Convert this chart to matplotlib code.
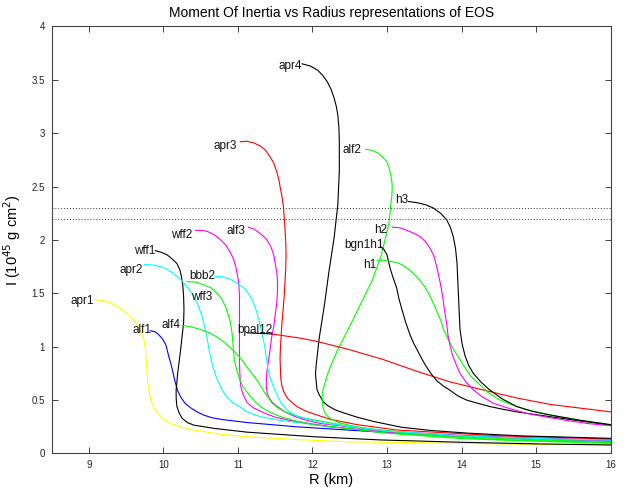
import matplotlib
matplotlib.use("Agg")
import matplotlib.pyplot as plt

plt.rcParams['font.family'] = ['Liberation Sans', 'DejaVu Sans']

# Moment of inertia I (10^45 g cm^2) against radius R (km) for each EOS
apr1_R = [9.09, 9.2, 9.29, 9.4, 9.51, 9.6, 9.67, 9.71, 9.74, 9.76, 9.77, 9.78, 9.79, 9.81, 9.83, 9.87, 9.92, 10.0, 10.10, 10.25, 10.41, 10.77, 11.12, 11.8, 12.46, 13.5, 14.5, 15.41, 16]
apr1_I = [1.44, 1.43, 1.41, 1.37, 1.31, 1.25, 1.19, 1.13, 1.06, 0.96, 0.85, 0.75, 0.66, 0.57, 0.50, 0.43, 0.38, 0.32, 0.28, 0.245, 0.22, 0.18, 0.157, 0.13, 0.11, 0.10, 0.09, 0.083, 0.078]

alf1_R = [9.82, 9.89, 9.94, 9.99, 10.03, 10.05, 10.07, 10.10, 10.12, 10.14, 10.16, 10.19, 10.23, 10.29, 10.36, 10.45, 10.54, 10.65, 10.77, 11.12, 11.79, 12.69, 13.5, 14.5, 15.3, 16]
alf1_I = [1.15, 1.14, 1.11, 1.07, 1.02, 0.97, 0.91, 0.84, 0.78, 0.72, 0.66, 0.59, 0.53, 0.47, 0.43, 0.39, 0.36, 0.335, 0.32, 0.29, 0.25, 0.21, 0.175, 0.15, 0.13, 0.115]

wff1_R = [9.89, 9.97, 10.05, 10.12, 10.18, 10.22, 10.24, 10.26, 10.27, 10.275, 10.27, 10.25, 10.23, 10.21, 10.19, 10.18, 10.17, 10.17, 10.18, 10.21, 10.25, 10.32, 10.41, 10.55, 10.68, 11.12, 12.02, 12.91, 14, 15, 16]
wff1_I = [1.90, 1.885, 1.86, 1.82, 1.78, 1.72, 1.66, 1.57, 1.47, 1.35, 1.22, 1.10, 0.97, 0.86, 0.75, 0.67, 0.60, 0.52, 0.44, 0.38, 0.33, 0.29, 0.265, 0.25, 0.235, 0.20, 0.157, 0.127, 0.105, 0.09, 0.08]

apr2_R = [9.74, 9.88, 10.01, 10.13, 10.23, 10.33, 10.41, 10.47, 10.52, 10.56, 10.59, 10.62, 10.66, 10.70, 10.75, 10.80, 10.85, 10.92, 11.0, 11.12, 11.3, 11.57, 12.24, 13, 14, 15, 16]
apr2_I = [1.77, 1.765, 1.74, 1.69, 1.63, 1.55, 1.47, 1.38, 1.28, 1.17, 1.06, 0.94, 0.82, 0.73, 0.65, 0.58, 0.53, 0.48, 0.45, 0.39, 0.345, 0.31, 0.25, 0.20, 0.16, 0.135, 0.118]

wff2_R = [10.43, 10.52, 10.59, 10.68, 10.77, 10.84, 10.90, 10.94, 10.97, 10.99, 11.01, 11.02, 11.02, 11.02, 11.02, 11.025, 11.03, 11.04, 11.06, 11.09, 11.12, 11.2, 11.35, 11.5, 11.70, 12.24, 13, 14, 15, 16]
wff2_I = [2.09, 2.09, 2.08, 2.05, 2.00, 1.95, 1.88, 1.82, 1.75, 1.68, 1.60, 1.48, 1.35, 1.05, 0.85, 0.75, 0.68, 0.62, 0.57, 0.52, 0.48, 0.43, 0.38, 0.34, 0.31, 0.25, 0.20, 0.16, 0.14, 0.12]

alf3_R = [11.14, 11.22, 11.30, 11.38, 11.44, 11.48, 11.50, 11.52, 11.53, 11.53, 11.52, 11.50, 11.48, 11.45, 11.43, 11.41, 11.39, 11.38, 11.38, 11.39, 11.41, 11.46, 11.53, 11.63, 11.75, 11.9, 12.11, 13, 14, 15, 16]
alf3_I = [2.12, 2.10, 2.06, 2.01, 1.94, 1.86, 1.78, 1.70, 1.63, 1.52, 1.41, 1.30, 1.19, 1.08, 0.97, 0.87, 0.78, 0.70, 0.63, 0.57, 0.53, 0.48, 0.44, 0.39, 0.35, 0.315, 0.28, 0.21, 0.17, 0.145, 0.13]

apr3_R = [11.03, 11.12, 11.21, 11.30, 11.37, 11.43, 11.48, 11.52, 11.55, 11.57, 11.59, 11.61, 11.62, 11.63, 11.64, 11.645, 11.64, 11.63, 11.62, 11.605, 11.59, 11.58, 11.57, 11.565, 11.57, 11.575, 11.59, 11.62, 11.66, 11.72, 11.79, 11.9, 12.02, 12.24, 12.6, 13.13, 14.47, 16]
apr3_I = [2.92, 2.925, 2.91, 2.88, 2.84, 2.78, 2.72, 2.64, 2.56, 2.48, 2.41, 2.31, 2.22, 2.11, 2.00, 1.86, 1.72, 1.60, 1.47, 1.34, 1.22, 1.11, 1.00, 0.89, 0.78, 0.70, 0.63, 0.57, 0.52, 0.48, 0.44, 0.40, 0.37, 0.32, 0.27, 0.22, 0.167, 0.136]

apr4_R = [11.86, 11.97, 12.07, 12.14, 12.20, 12.25, 12.29, 12.32, 12.34, 12.355, 12.36, 12.36, 12.34, 12.29, 12.22, 12.16, 12.09, 12.05, 12.04, 12.05, 12.06, 12.09, 12.14, 12.20, 12.3, 12.42, 12.6, 12.82, 13.2, 13.6, 14.1, 14.8, 16]
apr4_I = [3.65, 3.63, 3.59, 3.54, 3.48, 3.41, 3.33, 3.25, 3.17, 3.05, 2.92, 2.64, 2.33, 2.02, 1.70, 1.39, 1.08, 0.83, 0.75, 0.67, 0.60, 0.55, 0.49, 0.45, 0.41, 0.38, 0.34, 0.30, 0.245, 0.215, 0.19, 0.165, 0.142]

alf2_R = [12.71, 12.80, 12.89, 12.95, 13.00, 13.03, 13.05, 13.065, 13.07, 13.065, 13.05, 13.03, 12.98, 12.92, 12.80, 12.66, 12.52, 12.33, 12.21, 12.15, 12.13, 12.13, 12.14, 12.16, 12.2, 12.26, 12.35, 12.46, 12.6, 12.78, 13.49, 14.5, 16]
alf2_I = [2.85, 2.84, 2.81, 2.77, 2.73, 2.67, 2.61, 2.55, 2.49, 2.41, 2.33, 2.17, 2.02, 1.85, 1.62, 1.42, 1.22, 0.96, 0.76, 0.62, 0.56, 0.50, 0.44, 0.39, 0.35, 0.32, 0.29, 0.27, 0.25, 0.23, 0.17, 0.13, 0.10]

alf4_R = [10.25, 10.38, 10.50, 10.62, 10.72, 10.82, 10.90, 11.0, 11.07, 11.12, 11.2, 11.28, 11.34, 11.40, 11.46, 11.55, 11.65, 11.75, 11.9, 12.06, 12.51, 13.5, 14.5, 16]
alf4_I = [1.20, 1.185, 1.16, 1.13, 1.09, 1.04, 0.99, 0.92, 0.86, 0.81, 0.74, 0.66, 0.59, 0.53, 0.47, 0.42, 0.385, 0.36, 0.33, 0.31, 0.25, 0.18, 0.14, 0.105]

wff3_R = [10.32, 10.44, 10.54, 10.64, 10.72, 10.78, 10.83, 10.87, 10.90, 10.92, 10.93, 10.94, 10.95, 10.98, 11.02, 11.07, 11.14, 11.22, 11.30, 11.42, 11.57, 11.8, 12.02, 13, 14, 15, 16]
wff3_I = [1.61, 1.605, 1.58, 1.55, 1.50, 1.45, 1.38, 1.30, 1.22, 1.13, 1.05, 0.96, 0.88, 0.79, 0.70, 0.62, 0.56, 0.49, 0.44, 0.39, 0.345, 0.30, 0.27, 0.19, 0.14, 0.115, 0.095]

bbb2_R = [10.69, 10.80, 10.90, 11.0, 11.08, 11.15, 11.21, 11.25, 11.28, 11.32, 11.36, 11.38, 11.40, 11.43, 11.48, 11.53, 11.58, 11.67, 11.79, 12.0, 12.20, 13, 14, 15, 16]
bbb2_I = [1.66, 1.655, 1.63, 1.59, 1.55, 1.49, 1.41, 1.33, 1.25, 1.13, 1.00, 0.90, 0.80, 0.71, 0.62, 0.54, 0.47, 0.40, 0.35, 0.31, 0.28, 0.21, 0.165, 0.14, 0.125]

bpal12_R = [11.45, 11.84, 12.06, 12.51, 12.95, 13.40, 13.85, 14.29, 14.74, 15.19, 16]
bpal12_I = [1.12, 1.08, 1.05, 0.97, 0.88, 0.77, 0.67, 0.595, 0.52, 0.46, 0.39]
bpal12_top_R = [11.13, 11.45]
bpal12_top_I = [1.13, 1.12]

bgn1h1_R = [12.91, 12.96, 13.00, 13.02, 13.04, 13.08, 13.13, 13.16, 13.20, 13.25, 13.31, 13.36, 13.42, 13.48, 13.54, 13.60, 13.67, 13.76, 13.85, 13.95, 14.07, 14.22, 14.38, 14.55, 14.74, 15.19, 15.64, 16]
bgn1h1_I = [1.94, 1.91, 1.86, 1.80, 1.74, 1.65, 1.55, 1.45, 1.35, 1.23, 1.11, 1.03, 0.95, 0.87, 0.80, 0.74, 0.68, 0.63, 0.59, 0.54, 0.50, 0.47, 0.44, 0.415, 0.39, 0.345, 0.30, 0.265]

h1_R = [12.87, 12.96, 13.04, 13.12, 13.20, 13.28, 13.35, 13.43, 13.50, 13.55, 13.60, 13.64, 13.67, 13.72, 13.76, 13.82, 13.89, 13.97, 14.05, 14.13, 14.22, 14.36, 14.52, 14.7, 14.88, 15.1, 15.32, 15.65, 16]
h1_I = [1.81, 1.81, 1.80, 1.79, 1.77, 1.73, 1.69, 1.63, 1.57, 1.51, 1.44, 1.38, 1.33, 1.25, 1.16, 1.07, 0.98, 0.89, 0.80, 0.72, 0.66, 0.57, 0.50, 0.45, 0.41, 0.375, 0.345, 0.305, 0.27]

h2_R = [13.07, 13.17, 13.27, 13.37, 13.45, 13.52, 13.58, 13.63, 13.66, 13.69, 13.72, 13.75, 13.77, 13.80, 13.82, 13.85, 13.88, 13.93, 13.98, 14.06, 14.16, 14.28, 14.43, 14.65, 14.88, 15.15, 15.41, 15.7, 16]
h2_I = [2.12, 2.115, 2.09, 2.06, 2.03, 1.98, 1.92, 1.85, 1.77, 1.68, 1.58, 1.46, 1.35, 1.22, 1.10, 1.00, 0.92, 0.83, 0.75, 0.67, 0.595, 0.53, 0.47, 0.42, 0.375, 0.34, 0.31, 0.28, 0.26]

h3_R = [13.29, 13.40, 13.52, 13.62, 13.72, 13.80, 13.85, 13.89, 13.92, 13.94, 13.95, 13.96, 13.97, 13.98, 14.01, 14.05, 14.10, 14.16, 14.26, 14.38, 14.55, 14.74, 14.95, 15.19, 15.6, 16]
h3_I = [2.36, 2.35, 2.33, 2.30, 2.25, 2.19, 2.12, 2.03, 1.92, 1.78, 1.62, 1.47, 1.31, 1.16, 1.02, 0.91, 0.82, 0.75, 0.67, 0.595, 0.51, 0.44, 0.395, 0.36, 0.31, 0.27]

# name, R, I, colour, label anchor (right end of text)
curves = [
    ("apr1", apr1_R, apr1_I, "#ffff00", (9.07, 1.43)),
    ("alf1", alf1_R, alf1_I, "#0000ff", (9.84, 1.16)),
    ("wff1", wff1_R, wff1_I, "#000000", (9.89, 1.90)),
    ("apr2", apr2_R, apr2_I, "#00ffff", (9.72, 1.72)),
    ("wff2", wff2_R, wff2_I, "#ff00ff", (10.39, 2.05)),
    ("alf3", alf3_R, alf3_I, "#ff00ff", (11.10, 2.08)),
    ("apr3", apr3_R, apr3_I, "#ff0000", (10.99, 2.88)),
    ("apr4", apr4_R, apr4_I, "#000000", (11.86, 3.63)),
    ("alf2", alf2_R, alf2_I, "#00ff00", (12.66, 2.84)),
    ("alf4", alf4_R, alf4_I, "#00ff00", (10.23, 1.20)),
    ("wff3", wff3_R, wff3_I, "#00ff00", (10.65, 1.47)),
    ("bbb2", bbb2_R, bbb2_I, "#00ffff", (10.70, 1.66)),
    ("bpal12", bpal12_R, bpal12_I, "#ff0000", (11.46, 1.16)),
    ("bgn1h1", bgn1h1_R, bgn1h1_I, "#000000", (12.96, 1.95)),
    ("h1", h1_R, h1_I, "#00ff00", (12.86, 1.77)),
    ("h2", h2_R, h2_I, "#ff00ff", (13.01, 2.09)),
    ("h3", h3_R, h3_I, "#000000", (13.29, 2.37)),
]

limit_lines = [2.3, 2.2]
x_ticks = [9, 10, 11, 12, 13, 14, 15, 16]
y_ticks = [0, 0.5, 1, 1.5, 2, 2.5, 3, 3.5, 4]
y_tick_labels = ["0", "0.5", "1", "1.5", "2", "2.5", "3", "3.5", "4"]

fig = plt.figure(figsize=(6.27, 4.90), dpi=100)
ax = fig.add_axes([0.0825, 0.0745, 0.8912, 0.8715])

for name, R, I, col, (lx, ly) in curves:
    ax.plot(R, I, color=col, lw=0.8, solid_joinstyle='round')
    ax.text(lx, ly, name, ha='right', va='center', fontsize=8.5, color='#111111')
ax.plot(bpal12_top_R, bpal12_top_I, color='#000000', lw=0.8)

for y in limit_lines:
    ax.axhline(y, color='#333333', lw=0.7, ls=(0, (1, 2)))

ax.set_xlim(8.5, 16)
ax.set_ylim(0, 4)
ax.set_xticks(x_ticks)
ax.set_yticks(y_ticks)
ax.set_yticklabels(y_tick_labels)
ax.tick_params(direction='in', length=4, width=0.6, top=True, right=True,
               labelsize=7, colors='#222222', pad=5)
for sp in ax.spines.values():
    sp.set_color('#444444')
    sp.set_linewidth(0.8)

ax.set_xlabel("R (km)", fontsize=10.5, labelpad=2)
ax.set_ylabel(r"I (10$^{45}$ g cm$^2$)", fontsize=10.5, labelpad=6)
ax.set_title("Moment Of Inertia vs Radius representations of EOS", fontsize=10, pad=7)

fig.savefig("out.png", dpi=100)
